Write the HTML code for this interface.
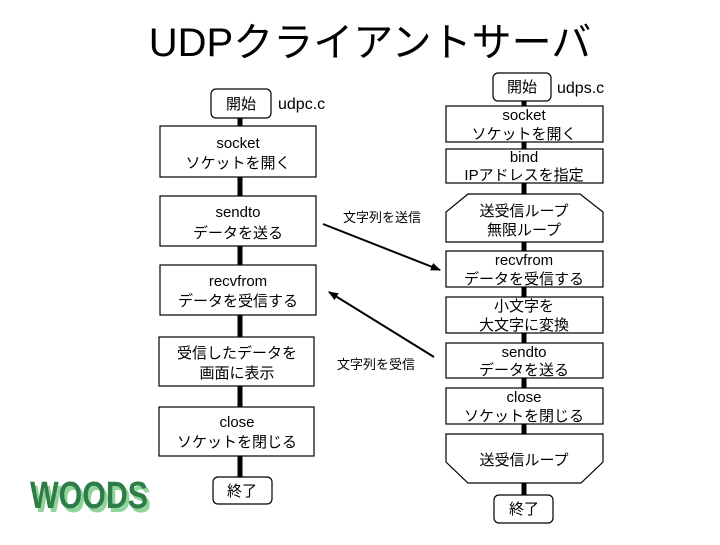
<!DOCTYPE html>
<html><head><meta charset="utf-8"><style>
body{margin:0;background:#fff;}
svg text{font-family:"Liberation Sans","Noto Sans CJK JP",sans-serif;fill:#000;}
</style></head><body>
<svg width="720" height="540" viewBox="0 0 720 540" xmlns="http://www.w3.org/2000/svg">
<rect width="720" height="540" fill="#fff"/>
<text x="370" y="56" font-size="40" text-anchor="middle">UDPクライアントサーバ</text>
<defs><marker id="ah" markerWidth="10" markerHeight="8" refX="9" refY="4" orient="auto" markerUnits="userSpaceOnUse"><path d="M0,0 L10,4 L0,8 z" fill="#000"/></marker></defs>
<!-- left connectors -->
<line x1="240" y1="118" x2="240" y2="477" stroke="#000" stroke-width="5"/>
<g fill="#fff" stroke="#000" stroke-width="1.2">
<rect x="211" y="89" width="60" height="29" rx="5"/>
<rect x="160" y="126" width="156" height="51"/>
<rect x="160" y="196" width="156" height="50"/>
<rect x="160" y="265" width="156" height="50"/>
<rect x="159" y="337" width="155" height="49"/>
<rect x="159" y="407" width="155" height="49"/>
<rect x="213" y="477" width="59" height="27" rx="5"/>
</g>
<g font-size="15" text-anchor="middle">
<text x="241" y="109">開始</text>
<text x="238" y="148">socket</text><text x="238" y="168">ソケットを開く</text>
<text x="238" y="217">sendto</text><text x="238" y="238">データを送る</text>
<text x="238" y="286">recvfrom</text><text x="238" y="306">データを受信する</text>
<text x="237" y="358">受信したデータを</text><text x="237" y="378">画面に表示</text>
<text x="237" y="427">close</text><text x="237" y="447">ソケットを閉じる</text>
<text x="242" y="496">終了</text>
</g>
<text x="278" y="109" font-size="16">udpc.c</text>
<!-- right -->
<line x1="524" y1="101" x2="524" y2="495" stroke="#000" stroke-width="5"/>
<g fill="#fff" stroke="#000" stroke-width="1.2">
<rect x="493" y="73" width="58" height="28" rx="5"/>
<rect x="446" y="106" width="157" height="36"/>
<rect x="446" y="149" width="157" height="34"/>
<path d="M446,242 L446,212 L468,194 L580,194 L603,212 L603,242 Z"/>
<rect x="446" y="251" width="157" height="36"/>
<rect x="446" y="297" width="157" height="36"/>
<rect x="446" y="343" width="157" height="35"/>
<rect x="446" y="388" width="157" height="36"/>
<path d="M446,434 L603,434 L603,462 L581,483 L468,483 L446,462 Z"/>
<rect x="494" y="495" width="59" height="28" rx="5"/>
</g>
<g font-size="15" text-anchor="middle">
<text x="522" y="92">開始</text>
<text x="524" y="120">socket</text><text x="524" y="139">ソケットを開く</text>
<text x="524" y="162">bind</text><text x="524" y="180">IPアドレスを指定</text>
<text x="524" y="216">送受信ループ</text><text x="524" y="235">無限ループ</text>
<text x="524" y="265">recvfrom</text><text x="524" y="284">データを受信する</text>
<text x="524" y="311">小文字を</text><text x="524" y="330">大文字に変換</text>
<text x="524" y="357">sendto</text><text x="524" y="375">データを送る</text>
<text x="524" y="402">close</text><text x="524" y="421">ソケットを閉じる</text>
<text x="524" y="465">送受信ループ</text>
<text x="524" y="514">終了</text>
</g>
<text x="557" y="93" font-size="16">udps.c</text>
<!-- arrows -->
<line x1="323" y1="224" x2="440" y2="270" stroke="#000" stroke-width="2" marker-end="url(#ah)"/>
<line x1="434" y1="357" x2="329" y2="292" stroke="#000" stroke-width="2" marker-end="url(#ah)"/>
<text x="343" y="222" font-size="13">文字列を送信</text>
<text x="337" y="369" font-size="13">文字列を受信</text>
<!-- logo -->
<text x="33" y="512" font-size="38" font-weight="bold" fill="#8fd49a" style="fill:#8fd49a" textLength="118" lengthAdjust="spacingAndGlyphs">WOODS</text>
<text x="30" y="508" font-size="38" font-weight="bold" style="fill:#2e7d46" textLength="118" lengthAdjust="spacingAndGlyphs">WOODS</text>
</svg>
</body></html>
